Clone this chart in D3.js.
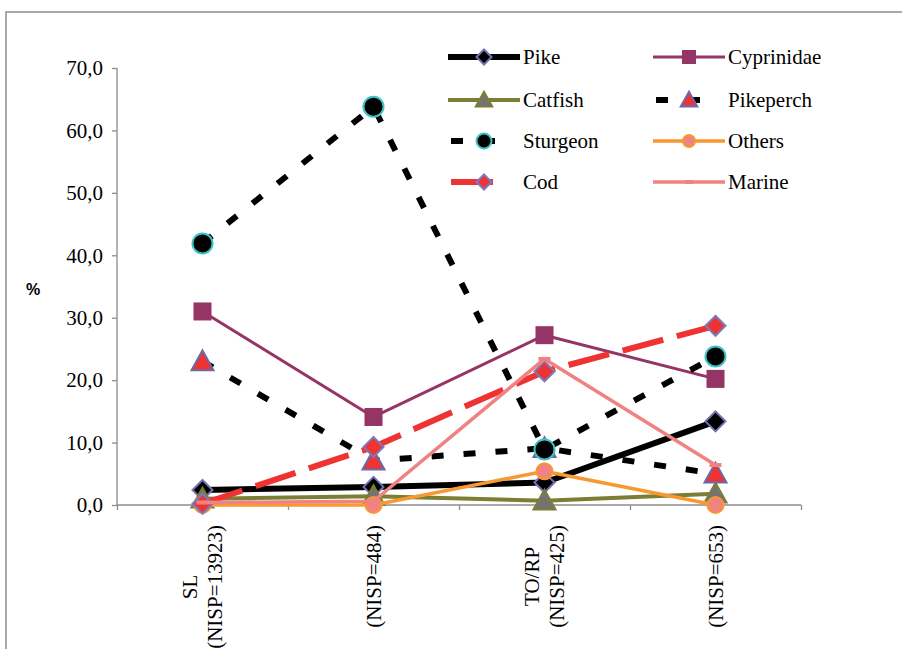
<!DOCTYPE html>
<html><head><meta charset="utf-8">
<script src="https://cdn.jsdelivr.net/npm/d3@7"></script>
<style>
html,body{margin:0;padding:0;background:#fff;}
svg{display:block;}
</style></head>
<body>
<script>
// ---------- data ----------
const categories = [["SL","(NISP=13923)"],["(NISP=484)"],["TO/RP","(NISP=425)"],["(NISP=653)"]];
const yTicks = [0,10,20,30,40,50,60,70];
const seriesNames = ["Pike","Cyprinidae","Catfish","Pikeperch","Sturgeon","Others","Cod","Marine"];
const pike       = [2.4, 2.9, 3.6, 13.4];
const cyprinidae = [31.0, 14.1, 27.2, 20.2];
const catfish    = [1.0, 1.4, 0.7, 1.8];
const pikeperch  = [23.0, 7.1, 9.1, 5.0];
const sturgeon   = [41.9, 63.8, 8.9, 23.8];
const others     = [0.0, 0.0, 5.4, 0.0];
const cod        = [0.2, 9.3, 21.4, 28.7];
const marine     = [0.4, 0.6, 23.4, 6.4];
const seriesValues = [pike, cyprinidae, catfish, pikeperch, sturgeon, others, cod, marine];

// ---------- styles ----------
const styles = {
  Pike:       {color:"#000000", width:6,   dash:null,    marker:"diamond",  fill:"#000000", stroke:"#7272b4", size:10, leg:[0,72]},
  Cyprinidae: {color:"#953565", width:3,   dash:null,    marker:"square",   fill:"#953565", stroke:"#953565", size:8,  leg:[0,72]},
  Catfish:    {color:"#7b7e34", width:4,   dash:null,    marker:"triangle", fill:"#737373", stroke:"#7b7e34", size:11, leg:[0,72]},
  Pikeperch:  {color:"#000000", width:6,   dash:"12,20", marker:"triangle", fill:"#ee3333", stroke:"#6a6aa8", size:11, leg:[3,53]},
  Sturgeon:   {color:"#000000", width:6,   dash:"12,20", marker:"circle",   fill:"#000000", stroke:"#3cc4c4", size:10, leg:[3,53]},
  Others:     {color:"#f7992f", width:3.5, dash:null,    marker:"circle",   fill:"#f08282", stroke:"#f7992f", size:8,  leg:[0,72]},
  Cod:        {color:"#ee3333", width:6,   dash:"42,14", marker:"diamond",  fill:"#ee3333", stroke:"#7a7ac0", size:10, leg:[3,47]},
  Marine:     {color:"#f08282", width:3.5, dash:null,    marker:"dash",     fill:"#f08282", stroke:"#f08282", size:6,  leg:[0,72]}
};

const W = 902, H = 649;
const svg = d3.select("body").append("svg").attr("width", W).attr("height", H);
const serif = "'Liberation Serif','Times New Roman',serif";

// frame
svg.append("path").attr("d", `M6,${H} L6,12 L${W},12`).attr("fill","none").attr("stroke","#8c8c8c").attr("stroke-width",1.5);

const x = d3.scaleBand().domain(d3.range(categories.length)).range([117, 801]).padding(0);
const xb = d3.scaleLinear().domain([0, categories.length]).range([117, 801]);
const y = d3.scaleLinear().domain([0, 70]).range([505, 68]);
const cx = i => x(i) + x.bandwidth()/2;

// y axis
const yAxis = svg.append("g").attr("transform","translate(117,0)")
  .call(d3.axisLeft(y).tickValues(yTicks).tickSize(5).tickPadding(9)
    .tickFormat(d => d.toFixed(1).replace(".", ",")));
yAxis.selectAll("path,line").attr("stroke","#8c8c8c").attr("stroke-width",1.3);
yAxis.select(".domain").attr("d","M0,505V68");
yAxis.selectAll("text").attr("font-family", serif).attr("font-size", 21).attr("fill","#000");

// x axis
const xAxis = svg.append("g").attr("transform","translate(0,505)")
  .call(d3.axisBottom(xb).ticks(categories.length).tickSize(5).tickFormat(""));
xAxis.selectAll("path,line").attr("stroke","#8c8c8c").attr("stroke-width",1.3);
xAxis.select(".domain").attr("d","M117,0H801");

// % label
svg.append("text").attr("x", 33).attr("y", 289).attr("text-anchor","middle").attr("dominant-baseline","central")
  .attr("font-family","'Liberation Sans',Arial,sans-serif").attr("font-weight","bold").attr("font-size",16).text("%");

// category labels
categories.forEach((lines, i) => {
  const g = svg.append("g");
  const n = lines.length;
  const lh = 25;
  const texts = lines.map((t, k) => g.append("text")
    .attr("font-family", serif).attr("font-size", 21).attr("text-anchor","middle")
    .attr("dominant-baseline","central").text(t));
  const maxLen = d3.max(texts, t => t.node().getComputedTextLength());
  const midY = 525 + maxLen/2;
  texts.forEach((t, k) => {
    const px = cx(i) + (k - (n-1)/2) * lh;
    t.attr("transform", `translate(${px},${midY}) rotate(-90)`);
  });
});

// markers
function drawMarker(g, type, st, px, py) {
  const s = st.size;
  let el;
  if (type === "diamond") {
    el = g.append("path").attr("d", `M${px},${py-s}L${px+s},${py}L${px},${py+s}L${px-s},${py}Z`);
  } else if (type === "square") {
    el = g.append("rect").attr("x", px-s).attr("y", py-s).attr("width", 2*s).attr("height", 2*s);
  } else if (type === "triangle") {
    el = g.append("path").attr("d", `M${px},${py-s}L${px+s},${py+s*0.8}L${px-s},${py+s*0.8}Z`);
  } else if (type === "circle") {
    el = g.append("circle").attr("cx", px).attr("cy", py).attr("r", s);
  } else if (type === "dash") {
    el = g.append("rect").attr("x", px-s).attr("y", py-2).attr("width", 2*s).attr("height", 4);
  }
  el.attr("fill", st.fill).attr("stroke", st.stroke).attr("stroke-width", type === "dash" ? 0 : 2);
}

const line = d3.line().x((d,i) => cx(i)).y(d => y(d));
seriesNames.forEach((name, si) => {
  const st = styles[name];
  const vals = seriesValues[si];
  const g = svg.append("g");
  g.append("path").datum(vals).attr("d", line).attr("fill","none")
    .attr("stroke", st.color).attr("stroke-width", st.width)
    .attr("stroke-dasharray", st.dash).attr("stroke-linejoin","round");
  vals.forEach((v, i) => drawMarker(g, st.marker, st, cx(i), y(v)));
});

// legend
const legCols = [448, 653];
const legRows = [57, 100, 141, 182];
seriesNames.forEach((name, si) => {
  const st = styles[name];
  const lx = legCols[si % 2], ly = legRows[Math.floor(si / 2)];
  const g = svg.append("g");
  g.append("line").attr("x1", lx + st.leg[0]).attr("x2", lx + st.leg[1]).attr("y1", ly).attr("y2", ly)
    .attr("stroke", st.color).attr("stroke-width", st.width).attr("stroke-dasharray", st.dash);
  drawMarker(g, st.marker, Object.assign({}, st, {size: st.marker === "dash" ? 4 : st.size*0.75}), lx + 36, ly);
  g.append("text").attr("x", lx + 75).attr("y", ly).attr("dominant-baseline","central")
    .attr("font-family", serif).attr("font-size", 21).attr("fill","#000").text(name);
});
</script>
</body></html>
